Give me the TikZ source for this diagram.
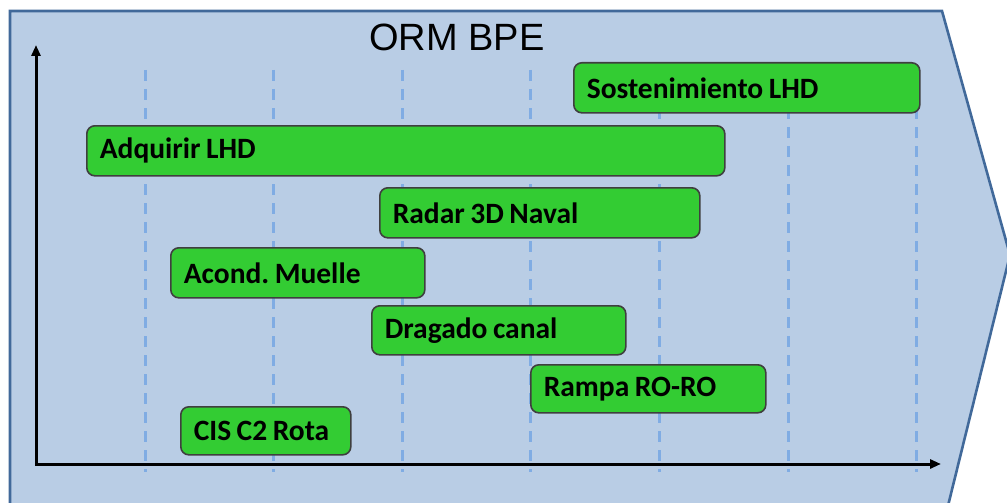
\documentclass[tikz,border=0pt]{standalone}
\usepackage{fontspec}
\setmainfont{Carlito}
\newfontfamily\titlefont{Liberation Sans}
\usetikzlibrary{arrows.meta}
\definecolor{bgfill}{HTML}{B9CDE5}
\definecolor{bgline}{HTML}{41699A}
\definecolor{barfill}{HTML}{33CC33}
\definecolor{barline}{HTML}{3F3F3F}
\definecolor{gridc}{HTML}{80ACE3}
\newcommand\bartxt[1]{\mbox{\frenchspacing\spaceskip=5.5pt\relax #1}}
\begin{document}
\begin{tikzpicture}[x=1pt,y=-1pt,
 bar/.style={draw=barline, fill=barfill, line width=1.6pt, rounded corners=8pt,
   anchor=north west, inner xsep=13pt, inner ysep=0pt, align=left,
   font=\bfseries\fontsize{29.5}{32}\selectfont},
 gridline/.style={draw=gridc, line width=3pt, dash pattern=on 11pt off 8pt},
 axis/.style={draw=black, line width=3pt, line join=miter,
   {Triangle[length=11pt,width=9pt]}-{Triangle[length=11pt,width=9pt]}}]
\useasboundingbox (0,0) rectangle (1007,503);
\begin{scope}
\clip (0,0) rectangle (1007,503);
\draw[fill=bgfill, draw=bgline, line width=2.6pt] (10,530) -- (10,11) -- (942,11) -- (1010,255) -- (942,530) -- cycle;
\end{scope}
% grid
\foreach \gx in {145,273,402,530,659,788,916}
  \draw[gridline] (\gx,70) -- (\gx,472);
% title
\node[font=\titlefont\fontsize{38}{40}\selectfont, inner sep=0pt] (title) at (457,37) {ORM BPE};
% axes
\coordinate (ytop) at (36,45);
\coordinate (orig) at (36,464);
\coordinate (xend) at (941,464);
\draw[axis] (ytop) -- (orig) -- (xend);
% bars
\node[bar, text width=320pt, minimum height=50pt] (sost) at (573,62) {\bartxt{Sostenimiento LHD}};
\node[bar, text width=612pt, minimum height=50pt] (adq) at (86,125) {\bartxt{Adquirir LHD}};
\node[bar, text width=294pt, minimum height=50pt] (radar) at (379,187) {\bartxt{Radar 3D Naval}};
\node[bar, text width=228pt, minimum height=50pt] (acond) at (170,247) {\bartxt{Acond. Muelle}};
\node[bar, text width=228pt, minimum height=49pt] (drag) at (371,305) {\bartxt{Dragado canal}};
\node[bar, text width=209pt, minimum height=48pt] (rampa) at (530,364) {\bartxt{Rampa RO-RO}};
\node[bar, text width=144pt, minimum height=48pt] (cis) at (180,406) {\bartxt{CIS C2 Rota}};
\end{tikzpicture}
\end{document}
